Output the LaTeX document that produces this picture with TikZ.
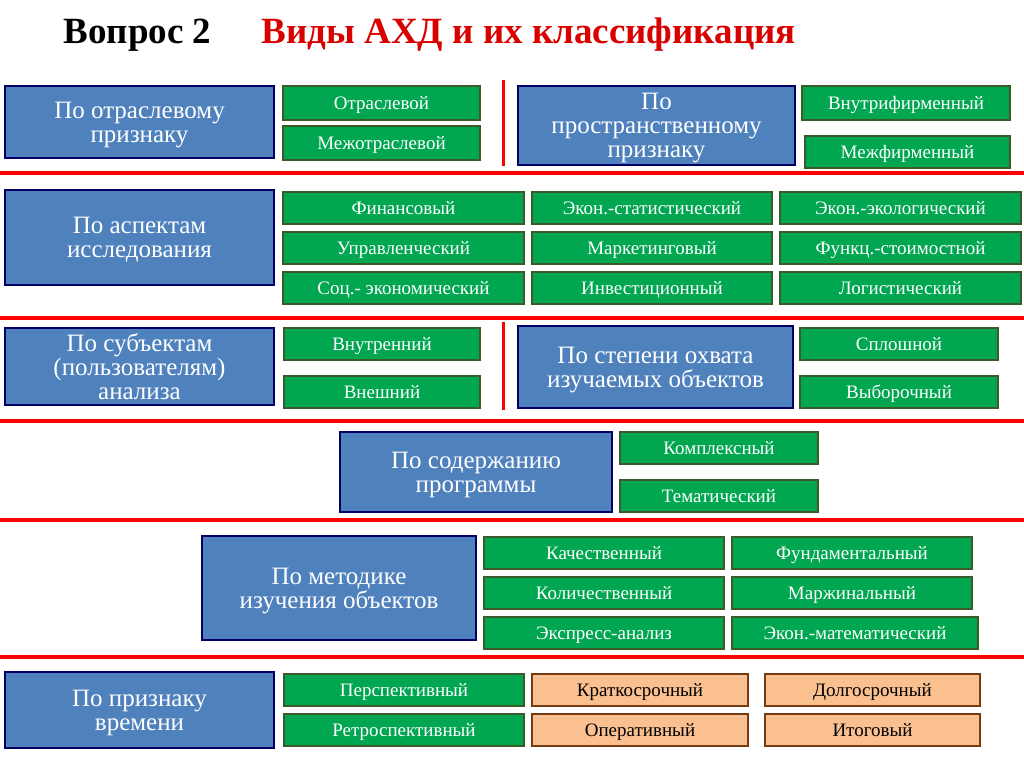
\documentclass[tikz,border=0pt]{standalone}
\usepackage{fontspec}
\setmainfont{Liberation Serif}
\begin{document}
\begin{tikzpicture}[x=1pt,y=-1pt,
  bl/.style={draw=blue!40!black,line width=1.5pt,fill={rgb,255:red,79;green,129;blue,189},text=white,font=\fontsize{25}{24}\selectfont,align=center},
  gr/.style={draw={rgb,255:red,60;green,90;blue,40},line width=1.2pt,fill={rgb,255:red,0;green,166;blue,80},text=white,font=\fontsize{19}{22}\selectfont},
  orb/.style={draw={rgb,255:red,120;green,60;blue,20},line width=1.2pt,fill={rgb,255:red,250;green,192;blue,144},text=black,font=\fontsize{19}{22}\selectfont},
  rl/.style={draw=red,line width=3.5pt}]
\useasboundingbox (0,0) rectangle (1024,767);
\node[anchor=west,font=\bfseries\fontsize{37}{40}\selectfont] (q) at (60,35) {Вопрос 2};
\node[anchor=west,font=\bfseries\fontsize{37}{40}\selectfont,text=red!85!black] (t) at (258,35) {Виды АХД и их классификация};
\newcommand{\bx}[6]{\path[#1] (#2,#3) rectangle (#4,#5) node[midway,text depth=0pt] {#6};}
% red lines
\coordinate (a1) at (0,173); \coordinate (a2) at (1024,173); \draw[rl] (a1)--(a2);
\coordinate (b1) at (0,318); \coordinate (b2) at (1024,318); \draw[rl] (b1)--(b2);
\coordinate (c1) at (0,421); \coordinate (c2) at (1024,421); \draw[rl] (c1)--(c2);
\coordinate (d1) at (0,520); \coordinate (d2) at (1024,520); \draw[rl] (d1)--(d2);
\coordinate (e1) at (0,657); \coordinate (e2) at (1024,657); \draw[rl] (e1)--(e2);
\coordinate (v1) at (503,80); \coordinate (v2) at (503,166); \draw[draw=red,line width=3pt] (v1)--(v2);
\coordinate (w1) at (503,322); \coordinate (w2) at (503,410); \draw[draw=red,line width=3pt] (w1)--(w2);
% row1
\bx{bl}{5}{86}{274}{158}{По отраслевому\\признаку}
\bx{gr}{283}{86}{480}{120}{Отраслевой}
\bx{gr}{283}{126}{480}{160}{Межотраслевой}
\bx{bl}{518}{86}{795}{165}{По\\пространственному\\признаку}
\bx{gr}{802}{86}{1010}{120}{Внутрифирменный}
\bx{gr}{805}{136}{1010}{168}{Межфирменный}
% row2
\bx{bl}{5}{190}{274}{285}{По аспектам\\исследования}
\bx{gr}{283}{192}{524}{224}{Финансовый}
\bx{gr}{283}{232}{524}{264}{Управленческий}
\bx{gr}{283}{272}{524}{304}{Соц.- экономический}
\bx{gr}{532}{192}{772}{224}{Экон.-статистический}
\bx{gr}{532}{232}{772}{264}{Маркетинговый}
\bx{gr}{532}{272}{772}{304}{Инвестиционный}
\bx{gr}{780}{192}{1021}{224}{Экон.-экологический}
\bx{gr}{780}{232}{1021}{264}{Функц.-стоимостной}
\bx{gr}{780}{272}{1021}{304}{Логистический}
% row3
\bx{bl}{5}{328}{274}{405}{По субъектам\\(пользователям)\\анализа}
\bx{gr}{284}{328}{480}{360}{Внутренний}
\bx{gr}{284}{376}{480}{408}{Внешний}
\bx{bl}{518}{326}{793}{408}{По степени охвата\\изучаемых объектов}
\bx{gr}{800}{328}{998}{360}{Сплошной}
\bx{gr}{800}{376}{998}{408}{Выборочный}
% row4
\bx{bl}{340}{432}{612}{512}{По содержанию\\программы}
\bx{gr}{620}{432}{818}{464}{Комплексный}
\bx{gr}{620}{480}{818}{512}{Тематический}
% row5
\bx{bl}{202}{536}{476}{640}{По методике\\изучения объектов}
\bx{gr}{484}{537}{724}{569}{Качественный}
\bx{gr}{484}{577}{724}{609}{Количественный}
\bx{gr}{484}{617}{724}{649}{Экспресс-анализ}
\bx{gr}{732}{537}{972}{569}{Фундаментальный}
\bx{gr}{732}{577}{972}{609}{Маржинальный}
\bx{gr}{732}{617}{978}{649}{Экон.-математический}
% row6
\bx{bl}{5}{672}{274}{748}{По признаку\\времени}
\bx{gr}{284}{674}{524}{706}{Перспективный}
\bx{gr}{284}{714}{524}{746}{Ретроспективный}
\bx{orb}{532}{674}{748}{706}{Краткосрочный}
\bx{orb}{532}{714}{748}{746}{Оперативный}
\bx{orb}{765}{674}{980}{706}{Долгосрочный}
\bx{orb}{765}{714}{980}{746}{Итоговый}
\end{tikzpicture}
\end{document}
